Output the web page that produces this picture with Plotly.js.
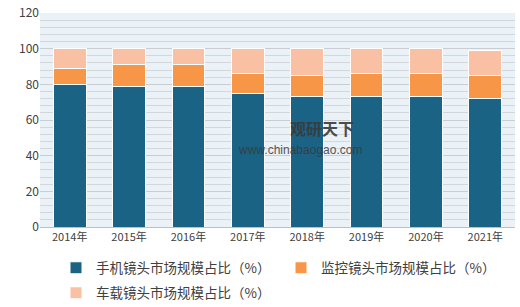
<!DOCTYPE html>
<html><head><meta charset="utf-8">
<script src="https://cdn.plot.ly/plotly-3.0.1.min.js"></script>
<style>html,body{margin:0;padding:0;background:#fff}#c{width:520px;height:307px}</style>
</head><body><div id="c"></div>
<script>
const years = ['2014年','2015年','2016年','2017年','2018年','2019年','2020年','2021年'];
const phone = [80,79,79,75,73,73,73,72];
const monitor = [9,12,12,11,12,13,13,13];
const vehicle = [11,9,9,14,15,14,14,14];
const names = ['手机镜头市场规模占比（%）','监控镜头市场规模占比（%）','车载镜头市场规模占比（%）'];
const colors = ['#1b6385','#f79646','#fac0a3'];
const legendIds = ['legend','legend','legend2'];
const series = [phone, monitor, vehicle];
const font = "'Noto Sans CJK SC', 'Microsoft YaHei', sans-serif";
const traces = series.map((s,i)=>({
  type:'bar', x:years, y:s, name:names[i], legend:legendIds[i],
  marker:{color:colors[i], line:{color:'#ffffff', width:1}},
  hoverinfo:'skip'
}));
const legStyle = {orientation:'h', xanchor:'left', yanchor:'middle', xref:'container', yref:'container',
  font:{size:13.5, color:'#404040'}, traceorder:'normal', bgcolor:'rgba(255,255,255,0)',
  itemwidth:30, entrywidth:180, entrywidthmode:'pixels'};
const layout = {
  width:520, height:307, barmode:'stack', bargap:0.45,
  margin:{l:40, r:5, t:13, b:80, autoexpand:false},
  paper_bgcolor:'#ffffff', plot_bgcolor:'#eaf1f7',
  font:{family:font, size:11, color:'#404040'},
  xaxis:{showgrid:false, zeroline:false, showline:true, linecolor:'#bfbfbf', ticks:'',
    tickfont:{size:11, color:'#404040'}},
  yaxis:{range:[0,120], dtick:20, showgrid:true, gridcolor:'#c9cdd1', gridwidth:1,
    zeroline:false, ticks:'', tickfont:{size:12, color:'#404040'},
    minor:{dtick:4, showgrid:true, gridcolor:'#d3d7da', gridwidth:1}},
  showlegend:true,
  legend:Object.assign({}, legStyle, {x:56/520, y:1-268/307}),
  legend2:Object.assign({}, legStyle, {x:56/520, y:1-293/307}),
  annotations:[
    {xref:'paper', yref:'paper', x:(322-40)/475, y:(227-141)/214, text:'<b>观研天下</b>', showarrow:false,
     font:{size:16, color:'#3a3a3a', family:font}, xanchor:'center', yanchor:'bottom', borderpad:0, opacity:0.9},
    {xref:'paper', yref:'paper', x:(300-40)/475, y:(227-142)/214, text:'www.chinabaogao.com', showarrow:false,
     font:{size:12, color:'#3a3a3a', family:'Liberation Sans, Arial'}, xanchor:'center', yanchor:'top', borderpad:0, opacity:0.85}
  ]
};
Plotly.newPlot('c', traces, layout, {displayModeBar:false, staticPlot:true});
</script></body></html>
